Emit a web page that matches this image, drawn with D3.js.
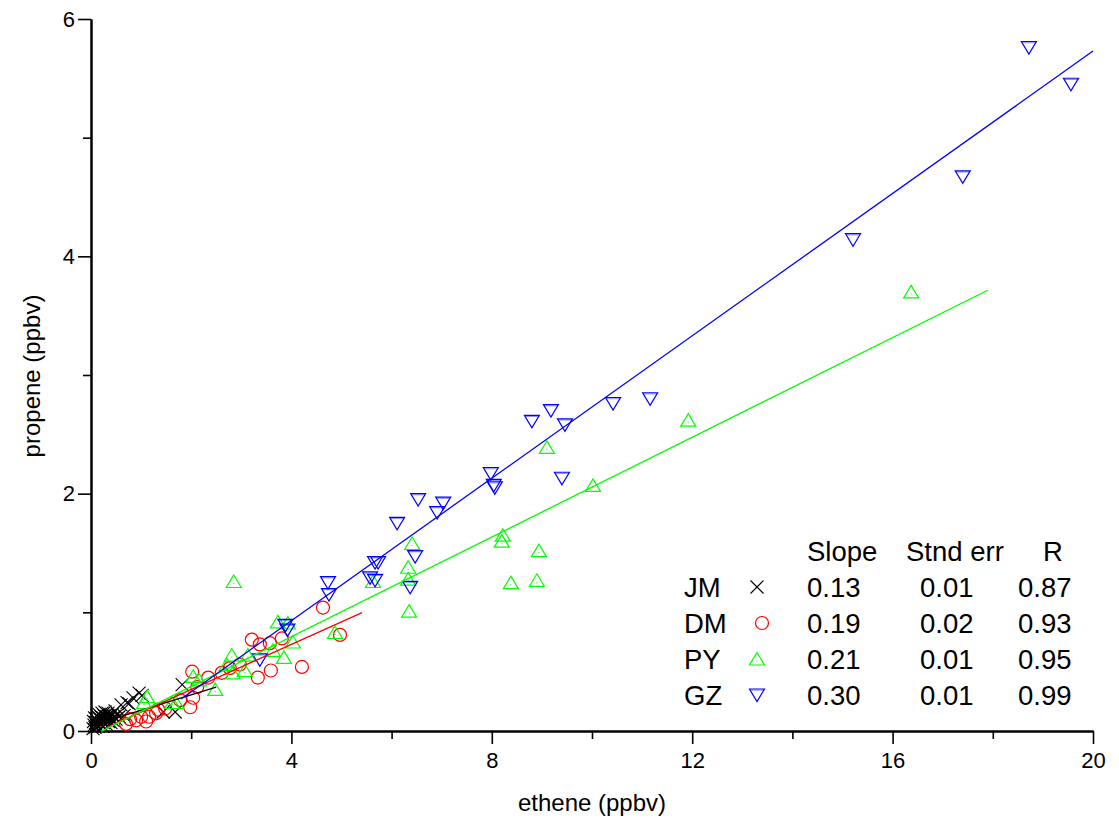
<!DOCTYPE html>
<html>
<head>
<meta charset="utf-8">
<script src="https://cdn.jsdelivr.net/npm/d3@7"></script>
<style>
  html, body { margin: 0; padding: 0; background: #fff; }
  svg { display: block; font-family: "Liberation Sans", Arial, sans-serif; }
</style>
</head>
<body>
<svg id="chart" width="1119" height="831"></svg>
<script>
// Ethene vs propene mixing ratios at four sites (ppbv)
const jmEthene  = [0.04,0.05,0.06,0.07,0.08,0.09,0.10,0.11,0.12,0.13,0.14,0.15,0.16,0.17,0.18,0.19,0.20,0.21,0.22,0.23,0.24,0.25,0.26,0.27,0.28,0.30,0.31,0.33,0.34,0.35,0.36,0.38,0.40,0.42,0.44,0.46,0.48,0.50,0.53,0.56,0.60,0.66,0.72,0.76,0.84,0.96,1.02,1.44,1.68,1.82];
const jmPropene = [0.02,0.08,0.05,0.11,0.03,0.07,0.10,0.05,0.13,0.08,0.04,0.11,0.14,0.07,0.10,0.06,0.12,0.09,0.15,0.04,0.11,0.07,0.13,0.09,0.16,0.06,0.12,0.10,0.15,0.08,0.13,0.11,0.07,0.14,0.09,0.12,0.17,0.10,0.14,0.12,0.22,0.13,0.24,0.23,0.28,0.32,0.30,0.16,0.16,0.39];

const dmEthene  = [0.70,0.78,0.90,1.00,1.10,1.16,1.30,1.34,1.48,1.78,1.98,2.02,2.04,2.12,2.34,2.61,2.77,2.97,3.21,3.33,3.37,3.57,3.59,3.81,4.21,4.63,4.97];
const dmPropene = [0.06,0.10,0.09,0.12,0.08,0.12,0.15,0.18,0.19,0.26,0.20,0.50,0.28,0.37,0.45,0.49,0.53,0.56,0.77,0.45,0.73,0.74,0.51,0.78,0.54,1.04,0.81];

const pyEthene  = [1.06,1.12,1.62,1.70,2.04,2.16,2.48,2.71,2.81,2.83,2.85,3.07,3.13,3.63,3.73,3.85,3.93,4.03,4.87,5.63,6.33,6.33,6.35,6.41,8.20,8.22,8.38,8.90,8.94,9.10,10.02,11.92,16.37];
const pyPropene = [0.24,0.29,0.24,0.24,0.46,0.43,0.35,0.56,0.64,0.49,1.26,0.51,0.64,0.68,0.92,0.62,0.91,0.75,0.83,1.26,1.38,1.28,1.01,1.58,1.60,1.65,1.25,1.27,1.52,2.39,2.07,2.62,3.70];

const gzEthene  = [3.37,3.88,3.92,4.73,4.75,5.57,5.67,5.67,5.73,6.11,6.37,6.47,6.53,6.91,7.03,7.98,8.04,8.06,8.80,9.18,9.40,9.46,10.42,11.16,15.21,17.40,18.72,19.56];
const gzPropene = [0.60,0.89,0.85,1.25,1.15,1.29,1.27,1.42,1.42,1.75,1.21,1.47,1.95,1.84,1.92,2.17,2.07,2.05,2.61,2.70,2.13,2.58,2.76,2.80,4.14,4.67,5.76,5.45];

// Regression results per site
const sites      = ["JM", "DM", "PY", "GZ"];
const slopes     = [0.13, 0.19, 0.21, 0.30];
const intercepts = [0.045, -0.03, -0.045, -0.27];
const fitFrom    = [0.05, 0.30, 0.20, 1.80];
const fitTo      = [2.50, 5.41, 17.90, 20.0];
const stdErrs    = ["0.01", "0.02", "0.01", "0.01"];
const rValues    = ["0.87", "0.93", "0.95", "0.99"];
const colors     = ["#000000", "#ff0000", "#00ff00", "#0000ff"];
const markers    = ["cross", "circle", "up", "down"];

const xMajor = [0, 4, 8, 12, 16, 20];
const xMinor = [2, 6, 10, 14, 18];
const yMajor = [0, 2, 4, 6];
const yMinor = [1, 3, 5];

const svg = d3.select("#chart");
const x = d3.scaleLinear().domain([0, 20]).range([91, 1093]);
const y = d3.scaleLinear().domain([0, 6]).range([731, 19]);

// Axes
function styleAxis(g) {
  g.attr("font-size", 22).attr("font-family", "Liberation Sans, Arial, sans-serif");
  g.selectAll("path.domain").attr("stroke", "#000").attr("stroke-width", 2);
  g.selectAll(".tick line").attr("stroke", "#000").attr("stroke-width", 1.6);
  g.selectAll(".tick text").attr("fill", "#000");
}
svg.append("g").attr("transform", "translate(0,731)")
  .call(d3.axisBottom(x).tickValues(xMinor).tickSize(8).tickSizeOuter(0).tickFormat(""))
  .call(styleAxis);
svg.append("g").attr("transform", "translate(0,731)")
  .call(d3.axisBottom(x).tickValues(xMajor).tickSize(13).tickSizeOuter(0).tickPadding(8).tickFormat(d3.format("d")))
  .call(styleAxis);
svg.append("g").attr("transform", "translate(91,0)")
  .call(d3.axisLeft(y).tickValues(yMinor).tickSize(8).tickSizeOuter(0).tickFormat(""))
  .call(styleAxis);
svg.append("g").attr("transform", "translate(91,0)")
  .call(d3.axisLeft(y).tickValues(yMajor).tickSize(13).tickSizeOuter(0).tickPadding(3).tickFormat(d3.format("d")))
  .call(styleAxis);

// Axis titles
svg.append("text").attr("x", 592).attr("y", 811).attr("text-anchor", "middle")
  .attr("font-size", 24).text("ethene (ppbv)");
svg.append("text").attr("transform", "translate(40,376) rotate(-90)").attr("text-anchor", "middle")
  .attr("font-size", 24).text("propene (ppbv)");

// Marker drawing
function drawMarker(g, type, color) {
  if (type === "cross") {
    g.append("path").attr("d", "M-6.5,-6.5L6.5,6.5M-6.5,6.5L6.5,-6.5")
      .attr("stroke", color).attr("stroke-width", 1.1).attr("fill", "none");
  } else if (type === "circle") {
    g.append("circle").attr("r", 6.5).attr("stroke", color).attr("stroke-width", 1.2).attr("fill", "none");
  } else if (type === "up") {
    g.append("path").attr("d", "M0,-6.5L7.5,6L-7.5,6Z")
      .attr("stroke", color).attr("stroke-width", 1.2).attr("fill", "none");
    g.append("rect").attr("x", -0.5).attr("y", 1.5).attr("width", 1).attr("height", 1).attr("fill", color);
  } else {
    g.append("path").attr("d", "M-7.5,-6L7.5,-6L0,6.5Z")
      .attr("stroke", color).attr("stroke-width", 1.2).attr("fill", "none");
    g.append("path").attr("d", "M-6.5,-4.8L6.5,-4.8")
      .attr("stroke", color).attr("stroke-opacity", 0.45).attr("stroke-width", 1);
  }
}

const seriesX = [jmEthene, dmEthene, pyEthene, gzEthene];
const seriesY = [jmPropene, dmPropene, pyPropene, gzPropene];

const plot = svg.append("g");
sites.forEach((s, i) => {
  const pts = seriesX[i].map((v, k) => [v, seriesY[i][k]]);
  plot.append("g").selectAll("g").data(pts).join("g")
    .attr("transform", d => `translate(${x(d[0])},${y(d[1])})`)
    .each(function () { drawMarker(d3.select(this), markers[i], colors[i]); });
});

// Regression lines
const line = d3.line().x(d => x(d[0])).y(d => y(d[1]));
sites.forEach((s, i) => {
  const seg = [fitFrom[i], fitTo[i]].map(v => [v, slopes[i] * v + intercepts[i]]);
  plot.append("path").attr("d", line(seg)).attr("stroke", colors[i])
    .attr("stroke-width", 1.3).attr("fill", "none");
});

// Statistics table
const table = svg.append("g").attr("font-size", 27.5).attr("fill", "#000");
table.append("text").attr("x", 807).attr("y", 561).text("Slope");
table.append("text").attr("x", 906).attr("y", 561).text("Stnd err");
table.append("text").attr("x", 1043).attr("y", 561).text("R");
const rowBase = [597, 633, 669, 705];
sites.forEach((s, i) => {
  table.append("text").attr("x", 684).attr("y", rowBase[i]).text(s);
  table.append("text").attr("x", 807).attr("y", rowBase[i]).text(slopes[i].toFixed(2));
  table.append("text").attr("x", 920).attr("y", rowBase[i]).text(stdErrs[i]);
  table.append("text").attr("x", 1018).attr("y", rowBase[i]).text(rValues[i]);
  const mx = i === 1 ? 762 : 757;
  const m = table.append("g").attr("transform", `translate(${mx},${rowBase[i] - 10})`);
  drawMarker(m, markers[i], colors[i]);
});
</script>
</body>
</html>
